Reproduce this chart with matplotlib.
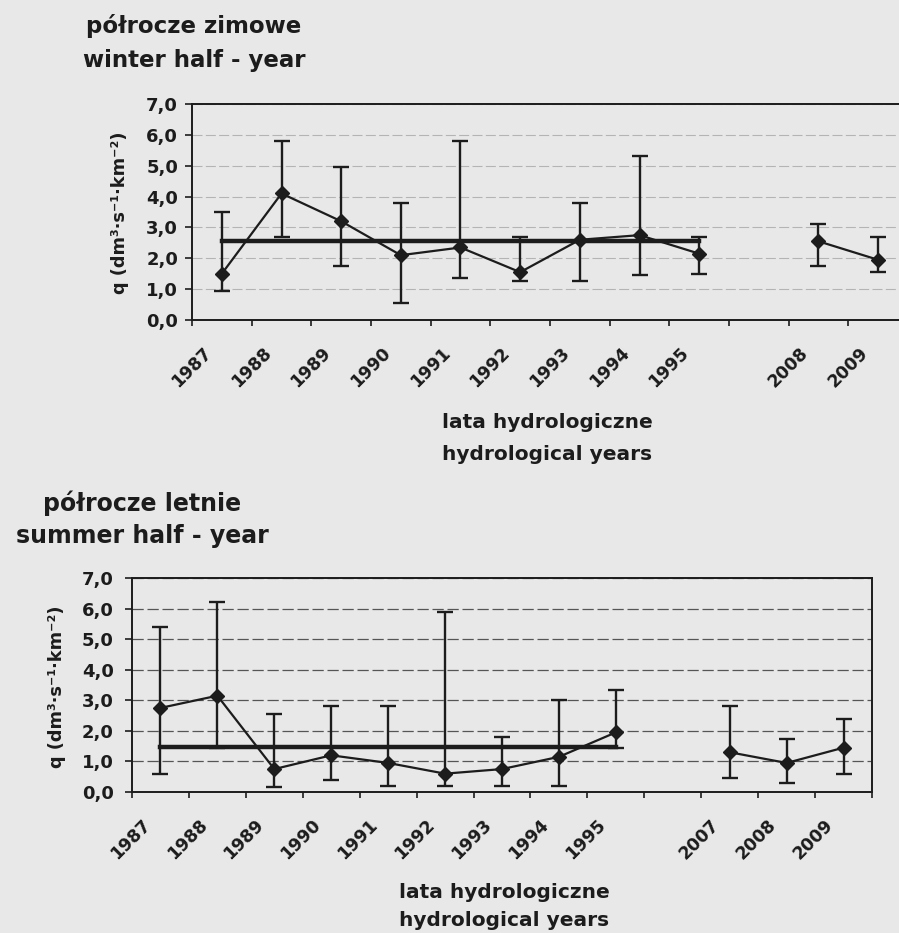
import numpy as np
import matplotlib
matplotlib.use("Agg")
import matplotlib.pyplot as plt
from matplotlib.transforms import ScaledTranslation

nan = np.nan

# winter half-year (1987-1995, gap, 2008-2009)
winter_years = ["1987", "1988", "1989", "1990", "1991", "1992", "1993", "1994", "1995",
                "", "2008", "2009"]
winter_q = [1.5, 4.1, 3.2, 2.1, 2.35, 1.55, 2.6, 2.75, 2.15, nan, 2.55, 1.95]
winter_lo = [0.95, 2.7, 1.75, 0.55, 1.35, 1.25, 1.25, 1.45, 1.5, nan, 1.75, 1.55]
winter_hi = [3.5, 5.8, 4.95, 3.8, 5.8, 2.7, 3.8, 5.3, 2.7, nan, 3.1, 2.7]
winter_avg = 2.55

# summer half-year (1987-1995, gap, 2007-2009)
summer_years = ["1987", "1988", "1989", "1990", "1991", "1992", "1993", "1994", "1995",
                "", "2007", "2008", "2009"]
summer_q = [2.75, 3.15, 0.75, 1.2, 0.95, 0.6, 0.75, 1.15, 1.95, nan, 1.3, 0.95, 1.45]
summer_lo = [0.6, 1.45, 0.15, 0.4, 0.2, 0.2, 0.2, 0.2, 1.45, nan, 0.45, 0.3, 0.6]
summer_hi = [5.4, 6.2, 2.55, 2.8, 2.8, 5.9, 1.8, 3.0, 3.35, nan, 2.8, 1.75, 2.4]
summer_avg = 1.47

W, H = 899, 933
INK = "#1c1c1c"
PAPER = "#e8e8e8"

plt.rcParams["font.family"] = ["DejaVu Sans"]
plt.rcParams["font.weight"] = "bold"
plt.rcParams["text.color"] = INK
plt.rcParams["xtick.color"] = INK
plt.rcParams["ytick.color"] = INK

fig = plt.figure(figsize=(W / 100, H / 100), dpi=100, facecolor=PAPER)


def px_axes(left, top, right, bottom):
    # pixel box -> figure fraction
    return fig.add_axes([left / W, 1 - bottom / H, (right - left) / W, (bottom - top) / H])


def draw_panel(ax, years, q, lo, hi, avg, grid_color, grid_lw, ypad):
    x = np.arange(len(years))
    q = np.array(q, float)
    lo = np.array(lo, float)
    hi = np.array(hi, float)
    ok = ~np.isnan(q)

    ax.set_facecolor("none")
    ax.grid(axis="y", color=grid_color, lw=grid_lw, linestyle=(0, (9, 3)))
    ax.set_axisbelow(True)

    ax.errorbar(x[ok], q[ok], yerr=[q[ok] - lo[ok], hi[ok] - q[ok]], fmt="none",
                ecolor=INK, elinewidth=1.7, capsize=6, capthick=1.7, zorder=3)
    last = years.index("1995")
    ax.plot([x[0], x[last]], [avg, avg], color=INK, lw=3.2, zorder=4)
    ax.plot(x, q, color=INK, lw=1.6, marker="D", ms=7, zorder=5)

    ax.set_xlim(-0.5, len(years) - 0.5)
    ax.set_ylim(0, 7)
    ax.set_yticks(range(8))
    ax.set_yticklabels([f"{v:.1f}".replace(".", ",") for v in range(8)], fontsize=13,
                       fontweight="bold")
    ax.set_xticks(np.arange(len(years) + 1) - 0.5)
    ax.set_xticklabels([])
    ax.set_xticks(x, minor=True)
    ax.set_xticklabels(years, minor=True, rotation=45, ha="right", va="center",
                       rotation_mode="anchor", fontsize=12.5, fontweight="bold")
    ax.tick_params(axis="x", which="major", length=4, width=1.2, direction="out")
    ax.tick_params(axis="x", which="minor", length=0, pad=22)
    ax.tick_params(axis="y", length=5, width=1.2, pad=ypad)
    shift = ScaledTranslation(-0.13, 0, fig.dpi_scale_trans)
    for lbl in ax.get_xticklabels(minor=True):
        lbl.set_transform(lbl.get_transform() + shift)
    for s in ax.spines.values():
        s.set_color(INK)
        s.set_linewidth(1.4)


ax1 = px_axes(192, 104, 908, 320)
draw_panel(ax1, winter_years, winter_q, winter_lo, winter_hi, winter_avg,
           "#b4b4b4", 0.8, 5)

ax2 = px_axes(132, 578, 872, 792)
draw_panel(ax2, summer_years, summer_q, summer_lo, summer_hi, summer_avg,
           "#555555", 0.9, 8)


def ftext(x, y, s, size, rot=0):
    fig.text(x / W, 1 - y / H, s, fontsize=size, fontweight="bold", ha="center",
             va="center", rotation=rot)


ylab = "q (dm³·s⁻¹·km⁻²)"

ftext(194, 26, "półrocze zimowe", 16.5)
ftext(194, 60, "winter half - year", 16.5)
ftext(120, 213, ylab, 12.8, rot=90)
ftext(547, 423, "lata hydrologiczne", 14.5)
ftext(547, 455, "hydrological years", 14.5)

ftext(142, 503, "półrocze letnie", 17)
ftext(142, 536, "summer half - year", 17)
ftext(57, 687, ylab, 12.8, rot=90)
ftext(504, 892, "lata hydrologiczne", 14.5)
ftext(504, 921, "hydrological years", 14.5)

fig.savefig("out.png", dpi=100, facecolor=PAPER)
